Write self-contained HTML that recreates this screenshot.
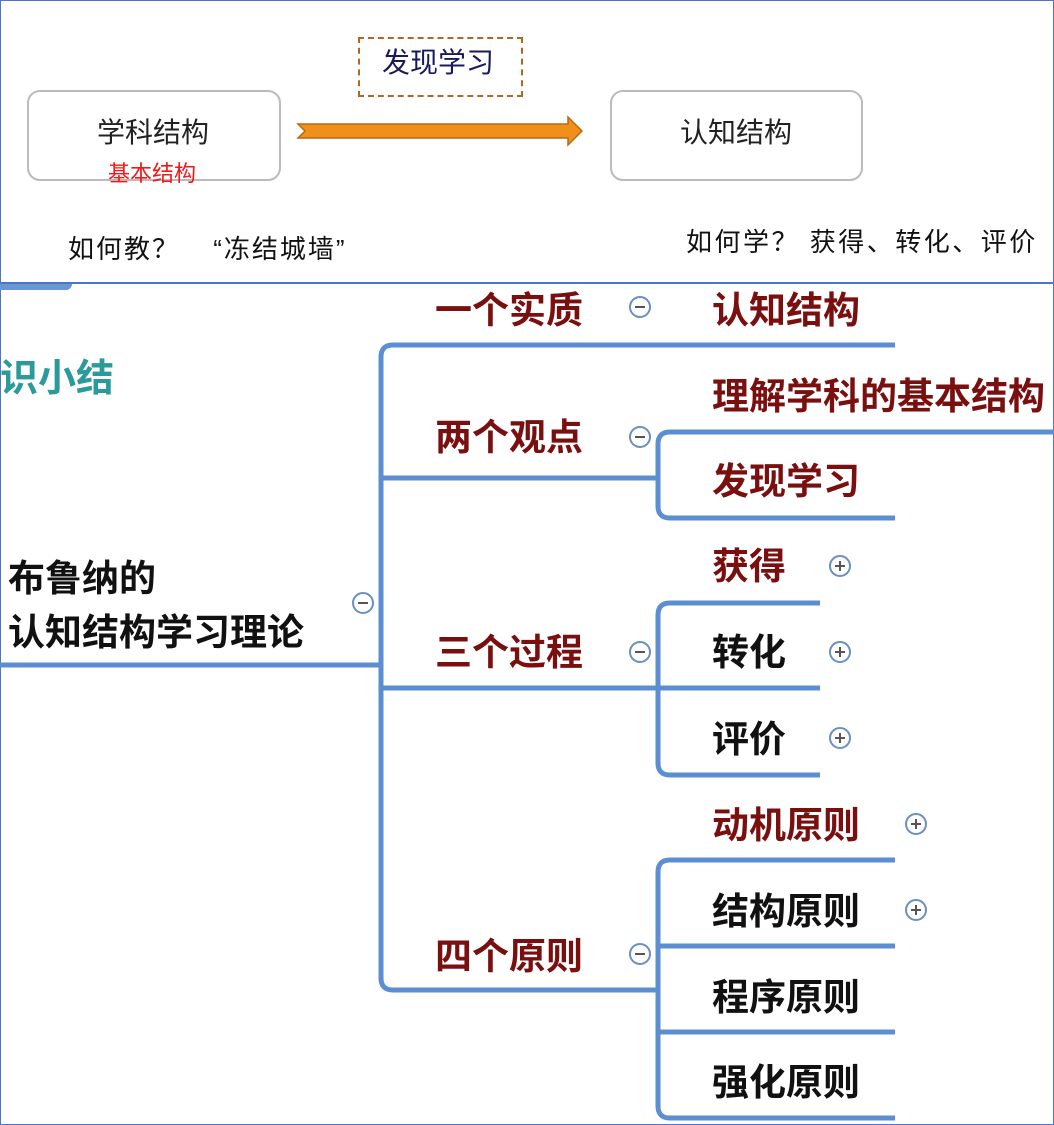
<!DOCTYPE html>
<html><head><meta charset="utf-8"><style>
body{margin:0;width:1054px;height:1125px;position:relative;overflow:hidden;background:#fff;font-family:"Liberation Sans","Noto Sans CJK SC",sans-serif}
.a{position:absolute;white-space:nowrap;line-height:1}
.b{font-weight:bold;font-size:37px;color:#7a0f0f}
.k{color:#111}
</style></head><body>
<div style="position:absolute;left:0;top:0;width:1052px;height:1123px;border:1px solid #4a78c8"></div>
<div style="position:absolute;left:0;top:282px;width:1054px;height:2px;background:#4a78c8"></div>
<div style="position:absolute;left:0;top:284px;width:72px;height:6px;background:#6a96d8;border-radius:0 0 8px 0"></div>
<div style="position:absolute;left:27px;top:90px;width:250px;height:87px;border:2px solid #bbb;border-radius:13px"></div>
<div style="position:absolute;left:610px;top:90px;width:249px;height:87px;border:2px solid #bbb;border-radius:13px"></div>
<div style="position:absolute;left:358px;top:37px;width:161px;height:56px;border:2px dashed #b5651d"></div>
<div class="a" style="left:97px;top:119px;font-size:28px;color:#222">学科结构</div>
<div class="a" style="left:108px;top:163px;font-size:22px;color:#f01818">基本结构</div>
<div class="a" style="left:382px;top:49px;font-size:28px;color:#1a1a5a">发现学习</div>
<div class="a" style="left:680px;top:119px;font-size:28px;color:#222">认知结构</div>
<div class="a" style="left:68px;top:236px;font-size:26px;letter-spacing:2px;color:#111">如何教？ <span style="margin-left:24px">“冻结城墙”</span></div>
<div class="a" style="left:686px;top:229px;font-size:26px;letter-spacing:2.5px;color:#111">如何学？ 获得、转化、评价</div>
<svg style="position:absolute;left:0;top:0" width="1054" height="1125">
<polygon points="298,124 568,124 568,117 582,131 568,145 568,138 298,138 305,131" fill="#f0901a" stroke="#b86a10" stroke-width="1.5"/>
<g fill="none" stroke="#5b8fd2" stroke-width="5">
<path d="M0,665 H381"/>
<path d="M895,345 H393 Q381,345 381,357 V978 Q381,990 393,990 H658"/>
<path d="M381,478 H658"/>
<path d="M381,688 H820"/>
<path d="M1054,432 H670 Q658,432 658,444 V506 Q658,518 670,518 H895"/>
<path d="M820,603 H670 Q658,603 658,615 V763 Q658,775 670,775 H820"/>
<path d="M895,860 H670 Q658,860 658,872 V1106 Q658,1118 670,1118 H895"/>
<path d="M658,946 H895 M658,1032 H895"/>
</g>
<g fill="#fff" stroke="#6a8fc0" stroke-width="2">
<circle cx="363" cy="603" r="10"/><circle cx="640" cy="307" r="10"/><circle cx="640" cy="437" r="10"/><circle cx="640" cy="652" r="10"/><circle cx="640" cy="954" r="10"/>
<circle cx="840" cy="566" r="10"/><circle cx="840" cy="652" r="10"/><circle cx="840" cy="738" r="10"/><circle cx="916" cy="824" r="10"/><circle cx="916" cy="910" r="10"/>
</g>
<g stroke="#555" stroke-width="2">
<path d="M358,603h10M635,307h10M635,437h10M635,652h10M635,954h10"/>
<path d="M835,566h10M840,561v10M835,652h10M840,647v10M835,738h10M840,733v10M911,824h10M916,819v10M911,910h10M916,905v10"/>
</g>
</svg>
<div class="a" style="left:0;top:360px;font-size:38px;font-weight:bold;color:#2a9a9a">识小结</div>
<div class="a k" style="left:8px;top:552px;font-size:37px;font-weight:bold;color:#111;line-height:54px">布鲁纳的<br>认知结构学习理论</div>
<div class="a b" style="left:435px;top:292px">一个实质</div>
<div class="a b" style="left:712px;top:292px">认知结构</div>
<div class="a b" style="left:435px;top:419px">两个观点</div>
<div class="a b" style="left:712px;top:378px">理解学科的基本结构</div>
<div class="a b" style="left:712px;top:463px">发现学习</div>
<div class="a b" style="left:435px;top:634px">三个过程</div>
<div class="a b" style="left:712px;top:548px">获得</div>
<div class="a b k" style="left:712px;top:634px">转化</div>
<div class="a b k" style="left:712px;top:721px">评价</div>
<div class="a b" style="left:435px;top:938px">四个原则</div>
<div class="a b" style="left:712px;top:807px">动机原则</div>
<div class="a b k" style="left:712px;top:893px">结构原则</div>
<div class="a b k" style="left:712px;top:979px">程序原则</div>
<div class="a b k" style="left:712px;top:1064px">强化原则</div>
</body></html>
